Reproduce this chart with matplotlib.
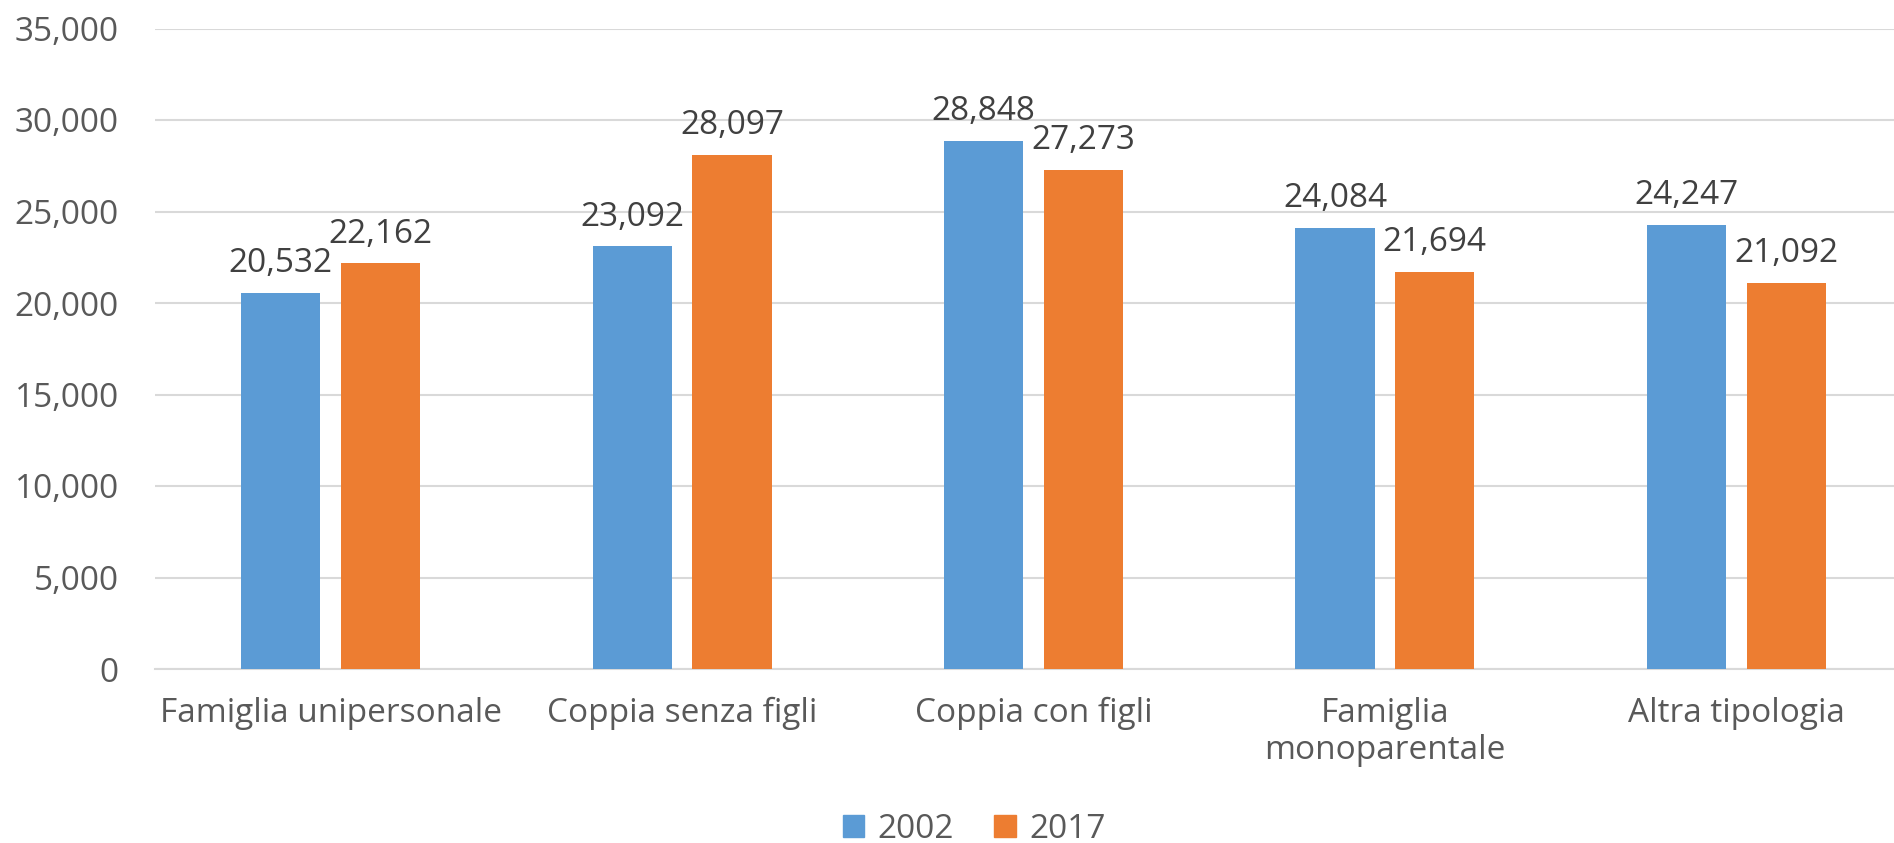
import matplotlib
matplotlib.use("Agg")
import matplotlib.pyplot as plt
import numpy as np
from matplotlib.patches import Patch

categories = ["Famiglia unipersonale", "Coppia senza figli", "Coppia con figli",
              "Famiglia\nmonoparentale", "Altra tipologia"]
series_names = ["2002", "2017"]
values_2002 = [20532, 23092, 28848, 24084, 24247]
values_2017 = [22162, 28097, 27273, 21694, 21092]
yticks = [0, 5000, 10000, 15000, 20000, 25000, 30000, 35000]

W, H = 1894, 843
fig = plt.figure(figsize=(W / 100, H / 100), dpi=100)
plt.rcParams['font.family'] = ['Open Sans', 'DejaVu Sans']

left, right, top, bottom = 155, 1912, 28.5, 669
ax = fig.add_axes([left / W, 1 - bottom / H, (right - left) / W, (bottom - top) / H])

x = np.arange(len(categories))
bw = 0.225
off = 0.142
c1, c2 = "#5b9bd5", "#ed7d31"
b1 = ax.bar(x - off, values_2002, bw, color=c1, zorder=3)
b2 = ax.bar(x + off, values_2017, bw, color=c2, zorder=3)

for bars, vals in ((b1, values_2002), (b2, values_2017)):
    for r, v in zip(bars, vals):
        ax.annotate(f"{v:,}", (r.get_x() + r.get_width() / 2, v), xytext=(0, 15),
                    textcoords="offset points", ha="center", va="baseline",
                    fontsize=24, color="#404040")

ax.set_xlim(-0.5, len(categories) - 0.5)
ax.set_ylim(0, 35000)
ax.set_yticks(yticks)
ax.set_yticklabels([f"{t:,}" for t in yticks])
ax.set_xticks(x)
ax.set_xticklabels(categories, linespacing=1.15)
ax.tick_params(axis='y', length=0, pad=26, labelsize=24, labelcolor="#595959")
ax.tick_params(axis='x', length=0, pad=20, labelsize=24, labelcolor="#595959")
ax.grid(axis='y', color="#d9d9d9", linewidth=1.5, zorder=0)
for s in ["top", "right", "left"]:
    ax.spines[s].set_visible(False)
ax.spines["bottom"].set_color("#d9d9d9")
ax.spines["bottom"].set_linewidth(1.5)
ax.set_axisbelow(True)

handles = [Patch(color=c1, label=series_names[0]), Patch(color=c2, label=series_names[1])]
fig.legend(handles=handles, loc="upper center", bbox_to_anchor=(974 / W, 1 - 796 / H),
           ncol=2, frameon=False, fontsize=24, labelcolor="#595959",
           handlelength=0.65, handleheight=0.65, handletextpad=0.4, columnspacing=1.2,
           borderpad=0)

fig.savefig("out.png", dpi=100)
